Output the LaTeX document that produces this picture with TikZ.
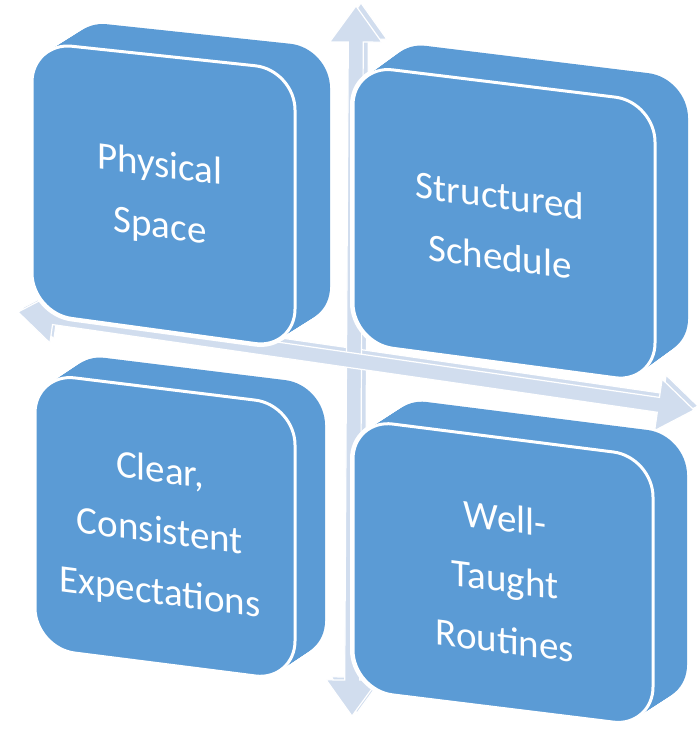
\documentclass[tikz,border=0pt]{standalone}
\usepackage{fontspec}
\setmainfont{Carlito}
\usetikzlibrary{calc}
\definecolor{boxblue}{HTML}{5B9BD5}
\definecolor{arrowfill}{HTML}{D1DDEE}
\newcommand\cubebox[6]{%
  \foreach \t in {0,0.05,...,1.001}{%
    \draw[white,line width=6pt,rounded corners=40pt,shift={(#5*\t,#6*\t)}] #1 -- #2 -- #3 -- #4 -- cycle;}
  \foreach \t in {0,0.05,...,1.001}{%
    \fill[boxblue,rounded corners=40pt,shift={(#5*\t,#6*\t)}] #1 -- #2 -- #3 -- #4 -- cycle;}
  \filldraw[fill=boxblue,draw=white,line width=3pt,rounded corners=40pt] #1 -- #2 -- #3 -- #4 -- cycle;
}
\newcommand\arrowshape[3]{%
  \filldraw[fill=arrowfill,draw=white,line width=1.2pt,#3]
   (#1) -- ($(#1)!36pt!(#2)!26pt!-90:(#2)$) -- ($(#1)!36pt!(#2)!7.5pt!-90:(#2)$)
   -- ($(#2)!36pt!(#1)!7.5pt!90:(#1)$) -- ($(#2)!36pt!(#1)!26pt!90:(#1)$)
   -- (#2) -- ($(#2)!36pt!(#1)!26pt!-90:(#1)$) -- ($(#2)!36pt!(#1)!7.5pt!-90:(#1)$)
   -- ($(#1)!36pt!(#2)!7.5pt!90:(#2)$) -- ($(#1)!36pt!(#2)!26pt!90:(#2)$) -- cycle;
}
\begin{document}
\begin{tikzpicture}[x=1pt,y=-1pt,
  boxlabel/.style={text=white,align=center,font=\fontsize{39}{61}\selectfont,yslant=-0.13,inner sep=0pt}]
\useasboundingbox (0,0) rectangle (697,729);
% arrows
\coordinate (vt) at (356,6);
\coordinate (vb) at (352,716);
\coordinate (hl) at (18,312);
\coordinate (hr) at (694,410);
\coordinate (vt2) at (361,3);
\coordinate (vb2) at (357,713);
\coordinate (hl2) at (22,308);
\coordinate (hr2) at (698,406);
\arrowshape{vt2}{vb2}{}
\arrowshape{hl2}{hr2}{}
\arrowshape{vt}{vb}{}
\arrowshape{hl}{hr}{}
% boxes
\cubebox{(32,42)}{(295,70)}{(295,349)}{(32,313)}{35}{-22}
\cubebox{(353,65)}{(655,102)}{(655,383)}{(353,343)}{33}{-24}
\cubebox{(35,373)}{(295,405)}{(295,681)}{(35,648)}{30}{-20}
\cubebox{(353,419)}{(653,457)}{(653,727)}{(353,690)}{34}{-22}
% labels
\node[boxlabel] (tl) at (160,197) {Physical\\Space};
\node[boxlabel] (tr) at (500,226) {Structured\\Schedule};
\node[boxlabel] (bl) at (160,533) {Clear,\\Consistent\\Expectations};
\node[boxlabel] (br) at (505,579) {Well-\\Taught\\Routines};
\end{tikzpicture}
\end{document}
